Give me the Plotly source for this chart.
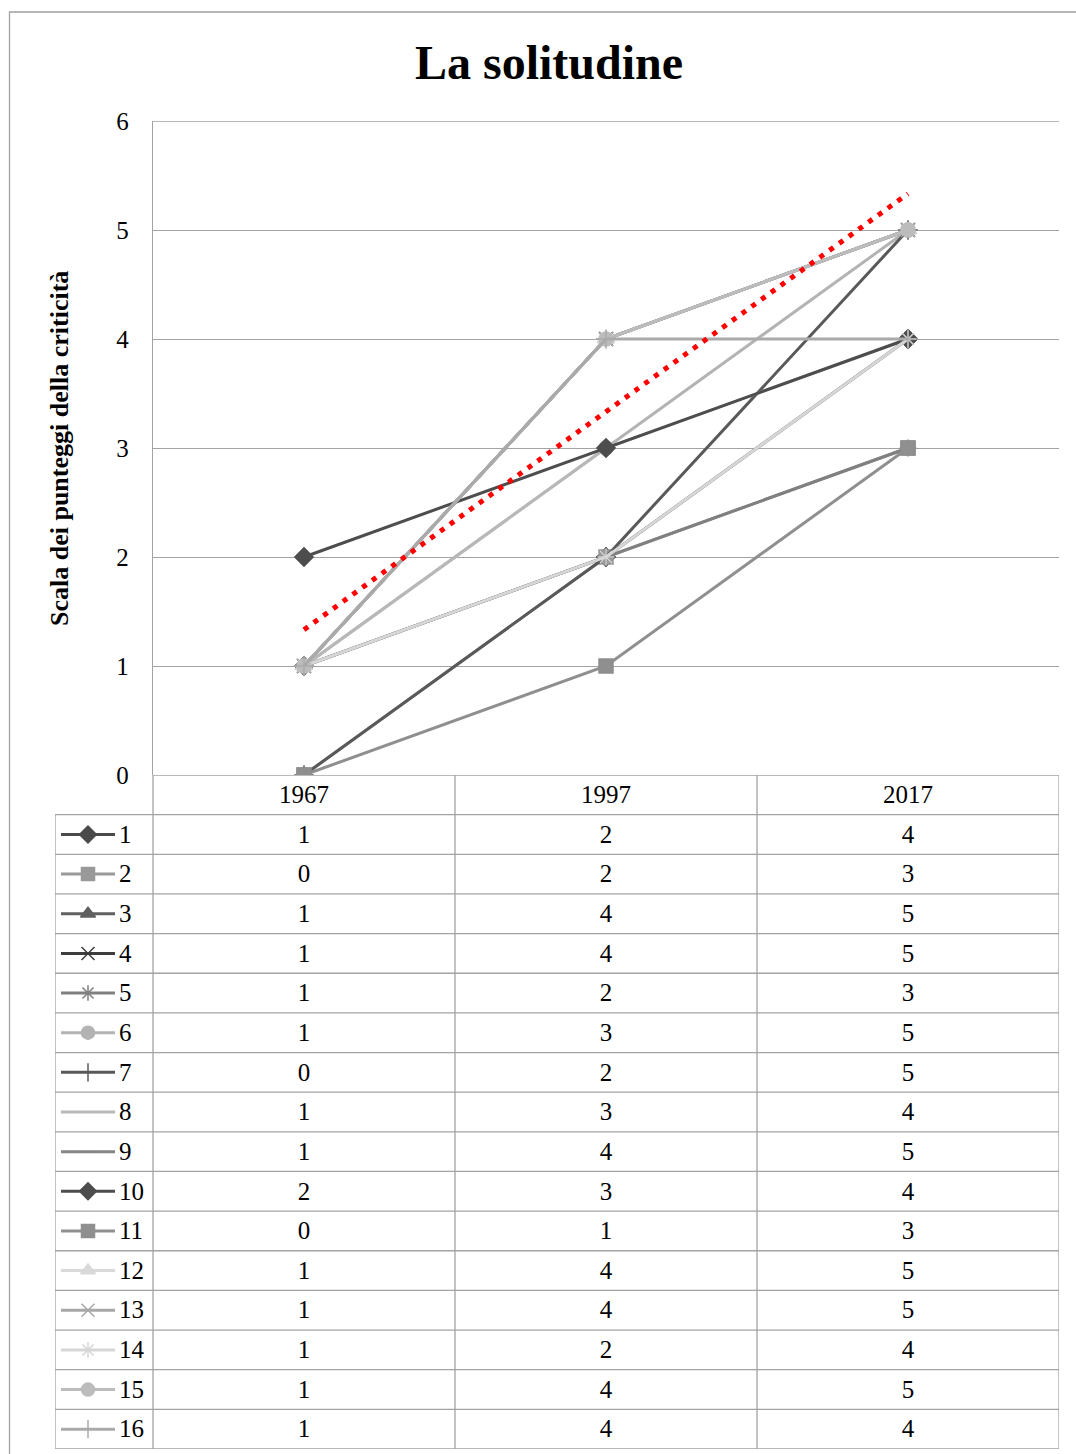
import numpy as np
import plotly.graph_objects as go

# ---------------- data ----------------
years = ["1967", "1997", "2017"]
series_names = [str(i) for i in range(1, 17)]
s1 = [1, 2, 4]
s2 = [0, 2, 3]
s3 = [1, 4, 5]
s4 = [1, 4, 5]
s5 = [1, 2, 3]
s6 = [1, 3, 5]
s7 = [0, 2, 5]
s8 = [1, 3, 4]
s9 = [1, 4, 5]
s10 = [2, 3, 4]
s11 = [0, 1, 3]
s12 = [1, 4, 5]
s13 = [1, 4, 5]
s14 = [1, 2, 4]
s15 = [1, 4, 5]
s16 = [1, 4, 4]
values = [s1, s2, s3, s4, s5, s6, s7, s8, s9, s10, s11, s12, s13, s14, s15, s16]
y_ticks = [0, 1, 2, 3, 4, 5, 6]
trend_source = s3  # linear trend line drawn for series 3

# ---------------- styles ----------------
colors = ["#4a4a4a", "#999999", "#606060", "#3d3d3d", "#808080", "#b3b3b3",
          "#595959", "#b8b8b8", "#858585", "#4d4d4d", "#8f8f8f", "#d9d9d9",
          "#a8a8a8", "#d6d6d6", "#bcbcbc", "#aaaaaa"]
symbols = ["diamond", "square", "triangle-up", "x-thin-open", "asterisk-open",
           "circle", "cross-thin-open", "line-ew-open", "line-ew-open",
           "diamond", "square", "triangle-up", "x-thin-open", "asterisk-open",
           "circle", "cross-thin-open"]
FONT = "Liberation Serif, Times New Roman, serif"
GRID = "#a3a3a3"
W, H = 1076, 1454

# pixel layout
PX_L, PX_R = 153, 1059          # plot area / table value columns
PX_TOP, PX_ZERO = 121, 775      # y=6 and y=0
PX_TBOT = 1449                  # table bottom
PX_LEG = 55                     # legend column left
col_w = (PX_R - PX_L) / len(years)

def px2x(px):
    return (px - PX_L) / col_w - 0.5

fig = go.Figure()

x_idx = list(range(len(years)))
for i, (name, v) in enumerate(zip(series_names, values)):
    fig.add_trace(go.Scatter(
        x=x_idx, y=v, mode="lines+markers", name=name,
        line=dict(color=colors[i], width=3),
        marker=dict(symbol=symbols[i], size=14, color=colors[i],
                    line=dict(color=colors[i], width=1.5)),
        showlegend=False, xaxis="x", yaxis="y"))

# trend line (linear fit)
coef = np.polyfit(x_idx, trend_source, 1)
trend_y = np.polyval(coef, x_idx)
fig.add_trace(go.Scatter(
    x=x_idx, y=trend_y, mode="lines",
    line=dict(color="#ff0000", width=5, dash="5px,7px"),
    showlegend=False, xaxis="x", yaxis="y"))

# ---------------- table ----------------
n_rows = len(series_names) + 1
x_leg = px2x(PX_LEG)
x_key0, x_key1, x_keym = px2x(61), px2x(115), px2x(88)
x_lab = px2x(119)

shapes = []
# top gridline of the plot (y = 6)
shapes.append(dict(type="line", xref="x", yref="y", x0=-0.5, x1=2.5,
                   y0=y_ticks[-1], y1=y_ticks[-1], line=dict(color=GRID, width=1.3)))
# table grid lines
for k in range(0, n_rows + 1):
    x0 = -0.5 if k == 0 else x_leg
    shapes.append(dict(type="line", xref="x2", yref="y2", x0=x0, x1=2.5,
                       y0=k, y1=k, line=dict(color=GRID, width=1.3)))
for xv in [-0.5, 0.5, 1.5, 2.5]:
    shapes.append(dict(type="line", xref="x2", yref="y2", x0=xv, x1=xv,
                       y0=0, y1=n_rows, line=dict(color=GRID, width=1.3)))
shapes.append(dict(type="line", xref="x2", yref="y2", x0=x_leg, x1=x_leg,
                   y0=1, y1=n_rows, line=dict(color=GRID, width=1.3)))
# outer chart border
shapes.append(dict(type="rect", xref="paper", yref="paper",
                   x0=9.5 / W, x1=1.05, y0=-0.05, y1=1 - 12 / H,
                   line=dict(color="#a0a0a0", width=1.3), layer="below"))

# header text
fig.add_trace(go.Scatter(
    x=x_idx, y=[0.55] * len(years), text=years, mode="text",
    textfont=dict(family=FONT, size=25, color="#000"),
    showlegend=False, xaxis="x2", yaxis="y2", hoverinfo="skip"))
# cell values
cx, cy, ct = [], [], []
for i, v in enumerate(values):
    for j, val in enumerate(v):
        cx.append(j)
        cy.append(i + 1.55)
        ct.append(str(val))
fig.add_trace(go.Scatter(
    x=cx, y=cy, text=ct, mode="text",
    textfont=dict(family=FONT, size=25, color="#000"),
    showlegend=False, xaxis="x2", yaxis="y2", hoverinfo="skip"))
# legend keys and labels
for i, name in enumerate(series_names):
    ry = i + 1.5
    fig.add_trace(go.Scatter(
        x=[x_key0, x_key1], y=[ry, ry], mode="lines",
        line=dict(color=colors[i], width=3),
        showlegend=False, xaxis="x2", yaxis="y2", hoverinfo="skip"))
    fig.add_trace(go.Scatter(
        x=[x_keym], y=[ry], mode="markers",
        marker=dict(symbol=symbols[i], size=13, color=colors[i],
                    line=dict(color=colors[i], width=1.5)),
        showlegend=False, xaxis="x2", yaxis="y2", hoverinfo="skip"))
fig.add_trace(go.Scatter(
    x=[x_lab] * len(series_names), y=[i + 1.55 for i in range(len(series_names))],
    text=series_names, mode="text", textposition="middle right",
    textfont=dict(family=FONT, size=25, color="#000"),
    showlegend=False, xaxis="x2", yaxis="y2", hoverinfo="skip"))

fig.update_layout(
    template="none",
    width=W, height=H, autosize=False,
    margin=dict(l=0, r=0, t=0, b=0, pad=0, autoexpand=False),
    paper_bgcolor="white", plot_bgcolor="rgba(0,0,0,0)",
    font=dict(family=FONT, color="#000"),
    title=dict(text="<b>La solitudine</b>", x=549 / W, y=1 - 62 / H,
               xref="paper", yref="paper", automargin=False,
               xanchor="center", yanchor="middle",
               font=dict(family=FONT, size=48, color="#000")),
    xaxis=dict(domain=[PX_L / W, PX_R / W], range=[-0.5, 2.5],
               showticklabels=False, showgrid=False, zeroline=False,
               showline=False, ticks="", automargin=False),
    yaxis=dict(domain=[1 - PX_ZERO / H, 1 - PX_TOP / H], range=[0, 6],
               tickvals=y_ticks, ticktext=[str(t) for t in y_ticks],
               tickfont=dict(family=FONT, size=25, color="#000"),
               showgrid=True, gridcolor=GRID, gridwidth=1.3,
               showline=True, linecolor=GRID, linewidth=1.3,
               zeroline=False, ticks="", ticklabelstandoff=18,
               automargin=False),
    xaxis2=dict(domain=[PX_LEG / W, PX_R / W], range=[x_leg, 2.5],
                visible=False, anchor="y2", automargin=False),
    yaxis2=dict(domain=[1 - PX_TBOT / H, 1 - PX_ZERO / H], range=[n_rows, 0],
                visible=False, anchor="x2", automargin=False),
    shapes=shapes,
    annotations=[dict(text="<b>Scala dei punteggi della criticità</b>",
                      xref="paper", yref="paper", x=59 / W, y=1 - 449 / H,
                      xanchor="center", yanchor="middle", textangle=-90,
                      showarrow=False,
                      font=dict(family=FONT, size=26, color="#000"))],
)

fig.write_html("out.html", config={"displayModeBar": False},
               post_script="document.body.style.margin='0';")
